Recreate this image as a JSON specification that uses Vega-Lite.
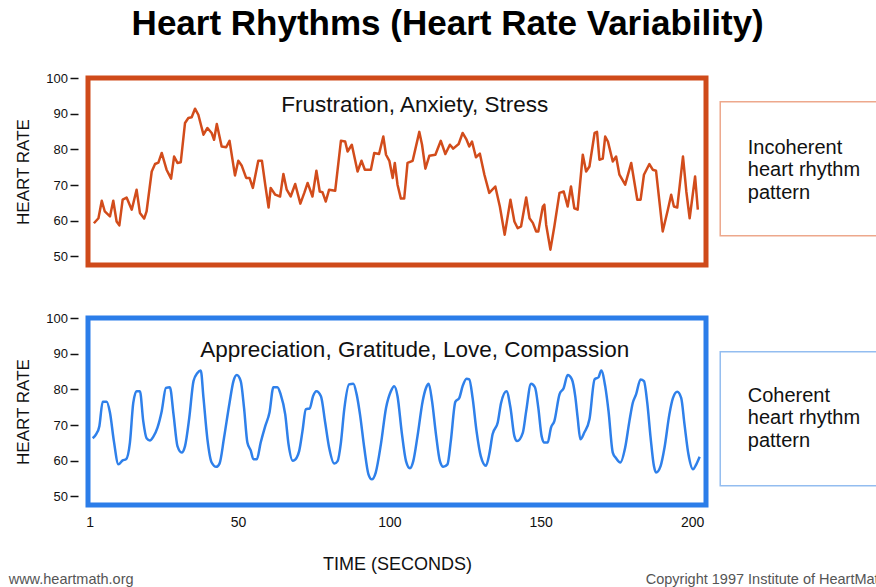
{
  "$schema": "https://vega.github.io/schema/vega-lite/v6.json",
  "background": "white",
  "padding": {"left": 8, "top": 7, "right": 0, "bottom": 2},
  "config": {"font": "Liberation Sans", "view": {"stroke": null}},
  "title": {"text": "Heart Rhythms (Heart Rate Variability)", "fontSize": 35, "fontWeight": "bold", "color": "#000", "anchor": "middle", "offset": 30},
  "spacing": 44,
  "vconcat": [
    {
      "width": 618,
      "height": 187,
      "resolve": {"axis": {"x": "independent", "y": "independent"}},
      "layer": [
        {
          "data": {"values": [
      {"t":2.4,"hr":59.3},{"t":3.9,"hr":60.7},{"t":5,"hr":65.6},{"t":6,"hr":62.6},{"t":7.7,"hr":61.2},{"t":8.8,"hr":65.6},{"t":9.9,"hr":59.8},{"t":10.8,"hr":58.7},{"t":11.9,"hr":65.9},{"t":13.2,"hr":66.5},{"t":14.9,"hr":63.1},{"t":16.5,"hr":68.7},{"t":17.6,"hr":62.2},{"t":19,"hr":60.6},{"t":19.8,"hr":62.6},{"t":21.5,"hr":73.8},{"t":22.6,"hr":75.9},{"t":23.7,"hr":76.3},{"t":24.8,"hr":79},{"t":26.4,"hr":74.3},{"t":27.9,"hr":71.8},{"t":28.9,"hr":78},{"t":30,"hr":76.2},{"t":31.1,"hr":76.4},{"t":32.5,"hr":87.4},{"t":33.6,"hr":88.8},{"t":34.7,"hr":89},{"t":35.8,"hr":91.4},{"t":36.9,"hr":89.7},{"t":38.6,"hr":84.1},{"t":39.9,"hr":86},{"t":41.3,"hr":84.6},{"t":42.1,"hr":82.7},{"t":43,"hr":87.1},{"t":44.6,"hr":80.8},{"t":46.1,"hr":80.6},{"t":47.2,"hr":82.4},{"t":49,"hr":72.7},{"t":50.1,"hr":76.8},{"t":51.2,"hr":75.5},{"t":52.7,"hr":72},{"t":53.8,"hr":72},{"t":54.9,"hr":69.2},{"t":56.7,"hr":76.8},{"t":57.9,"hr":76.8},{"t":59,"hr":70.1},{"t":60.1,"hr":63.7},{"t":60.8,"hr":69.2},{"t":62.3,"hr":67.3},{"t":63.9,"hr":66.8},{"t":65,"hr":73.1},{"t":66.1,"hr":68.7},{"t":67.4,"hr":66.8},{"t":68.9,"hr":70.3},{"t":70.6,"hr":64.8},{"t":71.9,"hr":67.8},{"t":73,"hr":70.6},{"t":74.6,"hr":66.8},{"t":75.9,"hr":74},{"t":77,"hr":68.2},{"t":77.9,"hr":68},{"t":79,"hr":65.4},{"t":80.1,"hr":68.7},{"t":82.1,"hr":68.4},{"t":84,"hr":82.4},{"t":85.4,"hr":82.2},{"t":86.2,"hr":79.4},{"t":87.6,"hr":81.3},{"t":89.5,"hr":73.8},{"t":90.8,"hr":76.8},{"t":91.9,"hr":74.3},{"t":93.9,"hr":74.3},{"t":95,"hr":79},{"t":96.6,"hr":78.7},{"t":98,"hr":83.6},{"t":98.9,"hr":78.5},{"t":100,"hr":76.8},{"t":101.1,"hr":72},{"t":101.8,"hr":76.2},{"t":102.7,"hr":70.1},{"t":103.8,"hr":66.2},{"t":104.9,"hr":66.2},{"t":106,"hr":76.2},{"t":107.7,"hr":76.8},{"t":109.9,"hr":84.9},{"t":110.8,"hr":81.3},{"t":111.9,"hr":74.6},{"t":113.2,"hr":78.2},{"t":115.2,"hr":78.5},{"t":117,"hr":82.4},{"t":118.5,"hr":78.7},{"t":120,"hr":81.3},{"t":121.1,"hr":80.2},{"t":122.9,"hr":81.5},{"t":124.2,"hr":84.6},{"t":125.5,"hr":82.7},{"t":126.4,"hr":80.8},{"t":127.3,"hr":82.2},{"t":128.6,"hr":77.8},{"t":129.9,"hr":78.8},{"t":131.4,"hr":72.9},{"t":133,"hr":67.8},{"t":135,"hr":69.6},{"t":136.5,"hr":64},{"t":138.1,"hr":56.1},{"t":140,"hr":65.9},{"t":141.3,"hr":59.8},{"t":142.4,"hr":57.9},{"t":143.5,"hr":58.4},{"t":145.2,"hr":66.5},{"t":146.3,"hr":60.7},{"t":147.4,"hr":59.4},{"t":148.5,"hr":57},{"t":149.2,"hr":57},{"t":150.7,"hr":64},{"t":151.2,"hr":64.5},{"t":151.8,"hr":58.9},{"t":153.2,"hr":51.9},{"t":154.5,"hr":58.4},{"t":156.2,"hr":67.8},{"t":157.6,"hr":68.2},{"t":158.9,"hr":64},{"t":160,"hr":69.6},{"t":161.1,"hr":63.5},{"t":162.2,"hr":63.1},{"t":163.9,"hr":78.5},{"t":165,"hr":73.8},{"t":166.1,"hr":75.2},{"t":167.8,"hr":84.6},{"t":168.6,"hr":84.9},{"t":169.4,"hr":77.1},{"t":170.5,"hr":77.4},{"t":171.3,"hr":83.6},{"t":172.2,"hr":82.2},{"t":173.8,"hr":76.6},{"t":174.9,"hr":78},{"t":176,"hr":72.9},{"t":177.9,"hr":70.1},{"t":179.9,"hr":76.2},{"t":181.9,"hr":65.9},{"t":183,"hr":65.9},{"t":184.1,"hr":72.9},{"t":185.9,"hr":75.9},{"t":187,"hr":74.3},{"t":188.1,"hr":74},{"t":190.3,"hr":57},{"t":192,"hr":63.1},{"t":193.1,"hr":67.3},{"t":194,"hr":64},{"t":195.1,"hr":63.7},{"t":197,"hr":78},{"t":198.1,"hr":68.2},{"t":199.2,"hr":60.7},{"t":201,"hr":72.4},{"t":201.9,"hr":63.1}
          ]},
          "mark": {"type": "line", "color": "#d24c1b", "strokeWidth": 2.5, "strokeJoin": "round"},
          "encoding": {
            "x": {"field": "t", "type": "quantitative", "scale": {"domain": [0.45, 204.6], "nice": false, "zero": false}, "axis": null},
            "y": {"field": "hr", "type": "quantitative", "scale": {"domain": [47.6, 100], "nice": false, "zero": false},
              "axis": {"orient": "left", "values": [50, 60, 70, 80, 90, 100], "title": "HEART RATE", "titleFontSize": 17, "titleFontWeight": "normal", "titleColor": "#111", "titlePadding": 13, "labelFontSize": 13, "labelColor": "#111", "labelPadding": 2.5, "tickSize": 8, "tickColor": "#111", "tickWidth": 1.5, "offset": 10, "domain": false, "grid": false}}
          }
        },
        {
          "data": {"values": [{"x": 209.3, "x2": 262.5, "y": 93.36, "y2": 55.81}]},
          "mark": {"type": "rect", "fill": "white", "stroke": "#eda88c", "strokeWidth": 1.5},
          "encoding": {
            "x": {"field": "x", "type": "quantitative", "axis": null},
            "x2": {"field": "x2"},
            "y": {"field": "y", "type": "quantitative", "axis": null},
            "y2": {"field": "y2"}
          }
        },
        {
          "data": {"values": [{"x": 0.45, "x2": 204.6, "y": 100, "y2": 47.6}]},
          "mark": {"type": "rect", "fillOpacity": 0, "stroke": "#cf4a1a", "strokeWidth": 5},
          "encoding": {
            "x": {"field": "x", "type": "quantitative", "axis": null},
            "x2": {"field": "x2"},
            "y": {"field": "y", "type": "quantitative", "axis": null},
            "y2": {"field": "y2"}
          }
        },
        {
          "data": {"values": [{"x": 108.4, "y": 92.52, "label": "Frustration, Anxiety, Stress"}]},
          "mark": {"type": "text", "fontSize": 22.5, "color": "#111", "baseline": "middle", "align": "center"},
          "encoding": {
            "x": {"field": "x", "type": "quantitative", "axis": null},
            "y": {"field": "y", "type": "quantitative", "axis": null},
            "text": {"field": "label", "type": "nominal"}
          }
        },
        {
          "data": {"values": [{"x": 218.4, "y": 80.47, "label": "Incoherent\nheart rhythm\npattern"}]},
          "mark": {"type": "text", "fontSize": 20, "color": "#111", "baseline": "middle", "align": "left", "lineHeight": 22.5, "lineBreak": "\n"},
          "encoding": {
            "x": {"field": "x", "type": "quantitative", "axis": null},
            "y": {"field": "y", "type": "quantitative", "axis": null},
            "text": {"field": "label", "type": "nominal"}
          }
        }
      ]
    },
    {
      "width": 618,
      "height": 187,
      "resolve": {"axis": {"x": "independent", "y": "independent"}},
      "layer": [
        {
          "data": {"values": [
      {"t":2,"hr":66.3},{"t":3.1,"hr":67.4},{"t":4.2,"hr":69.7},{"t":5.3,"hr":76.5},{"t":6.6,"hr":76.5},{"t":7.7,"hr":73.5},{"t":9,"hr":65.5},{"t":10.5,"hr":59},{"t":11.9,"hr":60.1},{"t":13,"hr":60.4},{"t":14.3,"hr":65.1},{"t":15.4,"hr":76.2},{"t":16.5,"hr":79.5},{"t":17.6,"hr":79.5},{"t":18.7,"hr":71.1},{"t":19.8,"hr":66.3},{"t":20.9,"hr":65.7},{"t":22,"hr":66.7},{"t":23.4,"hr":69.3},{"t":24.8,"hr":73.9},{"t":26.2,"hr":80.4},{"t":27.5,"hr":80.6},{"t":28.7,"hr":73},{"t":30,"hr":64.1},{"t":31.4,"hr":62.3},{"t":32.5,"hr":64.1},{"t":33.9,"hr":72},{"t":35.3,"hr":82.3},{"t":36.6,"hr":84.6},{"t":37.7,"hr":85.3},{"t":38.6,"hr":77.6},{"t":39.9,"hr":66},{"t":41.3,"hr":59.5},{"t":42.8,"hr":58.3},{"t":43.9,"hr":59.2},{"t":45.4,"hr":66.5},{"t":47.2,"hr":76.2},{"t":48.5,"hr":82.3},{"t":49.6,"hr":84},{"t":50.9,"hr":82.3},{"t":52,"hr":74.8},{"t":53.1,"hr":65.1},{"t":54.2,"hr":62.9},{"t":55.1,"hr":60.4},{"t":56.2,"hr":60.4},{"t":57.5,"hr":65.1},{"t":59,"hr":69.7},{"t":60.4,"hr":73.5},{"t":61.7,"hr":80.6},{"t":63,"hr":80.6},{"t":64.1,"hr":78.6},{"t":65.6,"hr":73},{"t":66.7,"hr":64.6},{"t":68.1,"hr":60},{"t":69.4,"hr":60.9},{"t":70.2,"hr":62.7},{"t":71.3,"hr":68.3},{"t":72.4,"hr":74.4},{"t":73.7,"hr":74.7},{"t":74.8,"hr":78.1},{"t":75.9,"hr":79.5},{"t":77.4,"hr":78.1},{"t":78.8,"hr":70.7},{"t":80.1,"hr":63.7},{"t":81.8,"hr":59.2},{"t":82.9,"hr":59.9},{"t":84,"hr":65.1},{"t":85.1,"hr":74.4},{"t":86.7,"hr":81.4},{"t":88.1,"hr":81.6},{"t":89.2,"hr":78.6},{"t":90.3,"hr":73},{"t":91.7,"hr":63.7},{"t":93.1,"hr":56.2},{"t":94.2,"hr":54.8},{"t":95.5,"hr":56.7},{"t":97.2,"hr":64.6},{"t":98.9,"hr":74.8},{"t":100.5,"hr":79.5},{"t":101.6,"hr":80.9},{"t":102.7,"hr":78.1},{"t":104.1,"hr":67.9},{"t":105.5,"hr":59.9},{"t":106.8,"hr":57.9},{"t":107.9,"hr":59.9},{"t":109.3,"hr":66.9},{"t":111,"hr":76.7},{"t":112.1,"hr":80.4},{"t":113,"hr":81.6},{"t":114.1,"hr":76.7},{"t":115.4,"hr":67.4},{"t":116.7,"hr":59.9},{"t":117.8,"hr":58.3},{"t":119.2,"hr":59},{"t":120.3,"hr":65.5},{"t":121.8,"hr":76.5},{"t":123.1,"hr":77.6},{"t":124.2,"hr":80.9},{"t":125.5,"hr":83},{"t":126.4,"hr":82.8},{"t":127.5,"hr":77.6},{"t":128.8,"hr":68.3},{"t":130.2,"hr":61.3},{"t":131.9,"hr":58.6},{"t":133,"hr":61.8},{"t":134.1,"hr":67.4},{"t":135.8,"hr":70.7},{"t":136.9,"hr":76.2},{"t":138.7,"hr":79.5},{"t":140,"hr":74.9},{"t":141.3,"hr":66.9},{"t":142.2,"hr":65.5},{"t":144.1,"hr":67.9},{"t":145.2,"hr":73.9},{"t":146.8,"hr":81.6},{"t":148.1,"hr":80.6},{"t":149.2,"hr":74.9},{"t":150.3,"hr":66.9},{"t":151.2,"hr":65.1},{"t":152.3,"hr":65.1},{"t":153.4,"hr":69.3},{"t":154.5,"hr":71.1},{"t":156.2,"hr":78.6},{"t":157.6,"hr":80.4},{"t":158.9,"hr":84},{"t":160.3,"hr":82.8},{"t":161.4,"hr":78.1},{"t":162.2,"hr":72.1},{"t":163.1,"hr":66},{"t":164.4,"hr":67.9},{"t":166.1,"hr":71.6},{"t":167.8,"hr":82.8},{"t":169.1,"hr":83.4},{"t":170,"hr":85.3},{"t":171.3,"hr":80.9},{"t":172.4,"hr":73.9},{"t":173.8,"hr":62.3},{"t":174.9,"hr":60.7},{"t":176.3,"hr":59.5},{"t":177.9,"hr":63.7},{"t":179.3,"hr":71.1},{"t":180.4,"hr":76.2},{"t":181.5,"hr":78.6},{"t":183,"hr":82.8},{"t":184.1,"hr":82.3},{"t":185.2,"hr":76.2},{"t":186.3,"hr":66.5},{"t":187.4,"hr":58.5},{"t":188.1,"hr":56.7},{"t":189.6,"hr":58.5},{"t":190.9,"hr":63.7},{"t":192.5,"hr":73},{"t":193.7,"hr":77.6},{"t":195.1,"hr":79.3},{"t":196.4,"hr":77.6},{"t":197.5,"hr":70.2},{"t":198.8,"hr":61.8},{"t":200.3,"hr":57.6},{"t":201.4,"hr":59},{"t":202.5,"hr":61.1}
          ]},
          "mark": {"type": "line", "color": "#2f80ea", "strokeWidth": 2.5, "interpolate": "monotone"},
          "encoding": {
            "x": {"field": "t", "type": "quantitative", "scale": {"domain": [0.45, 204.6], "nice": false, "zero": false},
              "axis": {"orient": "bottom", "values": [1, 50, 100, 150, 200], "title": "TIME (SECONDS)", "titleFontSize": 18, "titleFontWeight": "normal", "titleColor": "#111", "titlePadding": 26, "labelFontSize": 14, "labelColor": "#111", "labelPadding": 10, "ticks": false, "domain": false, "grid": false}},
            "y": {"field": "hr", "type": "quantitative", "scale": {"domain": [47.6, 100], "nice": false, "zero": false},
              "axis": {"orient": "left", "values": [50, 60, 70, 80, 90, 100], "title": "HEART RATE", "titleFontSize": 17, "titleFontWeight": "normal", "titleColor": "#111", "titlePadding": 13, "labelFontSize": 13, "labelColor": "#111", "labelPadding": 2.5, "tickSize": 8, "tickColor": "#111", "tickWidth": 1.5, "offset": 10, "domain": false, "grid": false}}
          }
        },
        {
          "data": {"values": [{"x": 209.3, "x2": 262.5, "y": 90.56, "y2": 53.01}]},
          "mark": {"type": "rect", "fill": "white", "stroke": "#93bdf0", "strokeWidth": 1.5},
          "encoding": {
            "x": {"field": "x", "type": "quantitative", "axis": null},
            "x2": {"field": "x2"},
            "y": {"field": "y", "type": "quantitative", "axis": null},
            "y2": {"field": "y2"}
          }
        },
        {
          "data": {"values": [{"x": 0.45, "x2": 204.6, "y": 100, "y2": 47.6}]},
          "mark": {"type": "rect", "fillOpacity": 0, "stroke": "#2b7de9", "strokeWidth": 5},
          "encoding": {
            "x": {"field": "x", "type": "quantitative", "axis": null},
            "x2": {"field": "x2"},
            "y": {"field": "y", "type": "quantitative", "axis": null},
            "y2": {"field": "y2"}
          }
        },
        {
          "data": {"values": [{"x": 108.4, "y": 91.12, "label": "Appreciation, Gratitude, Love, Compassion"}]},
          "mark": {"type": "text", "fontSize": 22.5, "color": "#111", "baseline": "middle", "align": "center"},
          "encoding": {
            "x": {"field": "x", "type": "quantitative", "axis": null},
            "y": {"field": "y", "type": "quantitative", "axis": null},
            "text": {"field": "label", "type": "nominal"}
          }
        },
        {
          "data": {"values": [{"x": 218.4, "y": 78.23, "label": "Coherent\nheart rhythm\npattern"}]},
          "mark": {"type": "text", "fontSize": 20, "color": "#111", "baseline": "middle", "align": "left", "lineHeight": 22.5, "lineBreak": "\n"},
          "encoding": {
            "x": {"field": "x", "type": "quantitative", "axis": null},
            "y": {"field": "y", "type": "quantitative", "axis": null},
            "text": {"field": "label", "type": "nominal"}
          }
        },
        {
          "data": {"values": [{"x": -25.76, "y": 26.7, "label": "www.heartmath.org"}, {"x": 184.68, "y": 26.7, "label": "Copyright 1997 Institute of HeartMath"}]},
          "mark": {"type": "text", "fontSize": 14.5, "color": "#555", "baseline": "middle", "align": "left"},
          "encoding": {
            "x": {"field": "x", "type": "quantitative", "axis": null},
            "y": {"field": "y", "type": "quantitative", "axis": null},
            "text": {"field": "label", "type": "nominal"}
          }
        }
      ]
    }
  ]
}
